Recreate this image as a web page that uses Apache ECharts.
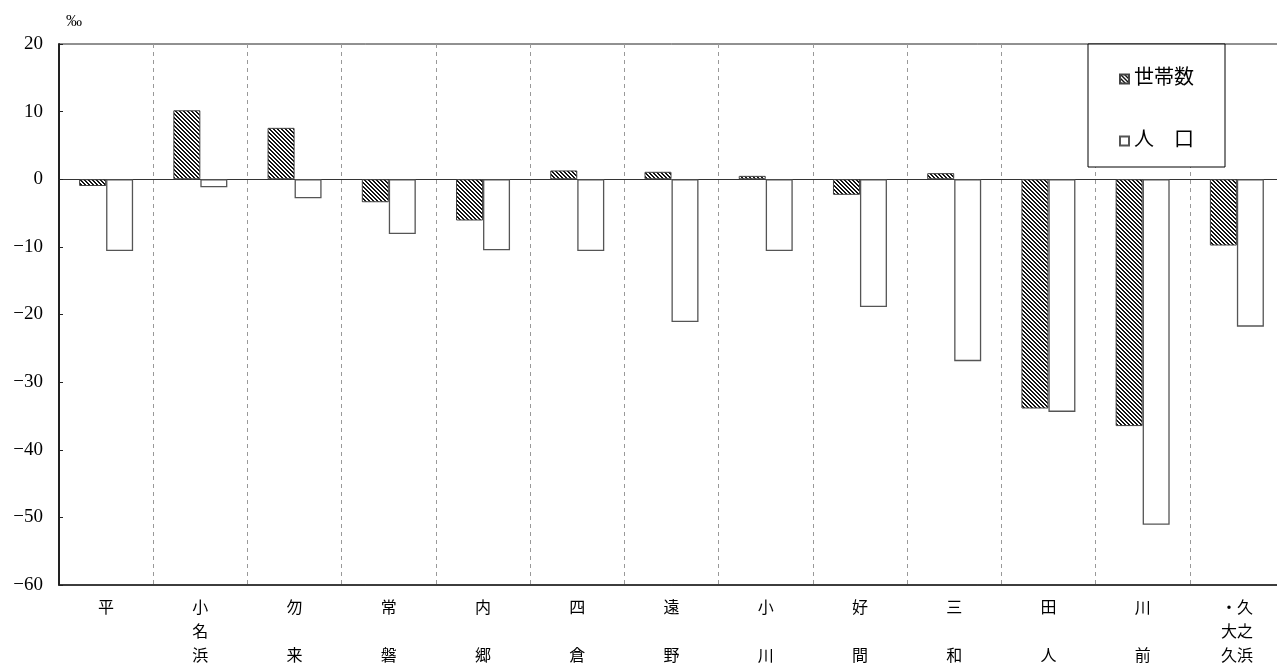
<!DOCTYPE html>
<html>
<head>
<meta charset="utf-8">
<script src="https://cdn.jsdelivr.net/npm/echarts@6/dist/echarts.min.js"></script>
<style>html,body{margin:0;padding:0;background:#fff;overflow:hidden;}#c{width:1290px;height:670px;}</style>
</head>
<body>
<div id="c"></div>
<script>
const categories = ['平','小名浜','勿来','常磐','内郷','四倉','遠野','小川','好間','三和','田人','川前','久之浜・大久'];
const households = [-1.0, 10.2, 7.6, -3.4, -6.1, 1.3, 1.1, 0.5, -2.3, 0.9, -33.9, -36.5, -9.8];
const population = [-10.6, -1.2, -2.8, -8.1, -10.5, -10.6, -21.1, -10.6, -18.9, -26.9, -34.4, -51.1, -21.8];
const seriesNames = ['世帯数', '人　口'];
const yTicks = {min: -60, max: 20, interval: 10};

const FONT = "'Liberation Serif', 'Noto Sans CJK JP', serif";

// hatch pattern
const tile = document.createElement('canvas');
tile.width = 4; tile.height = 4;
const tctx = tile.getContext('2d');
const img = tctx.createImageData(4, 4);
for (let y = 0; y < 4; y++) for (let x = 0; x < 4; x++) {
  const k = (y * 4 + x) * 4;
  const dark = (((x - y) % 4) + 4) % 4 < 2;
  const v = dark ? 20 : 255;
  img.data[k] = v; img.data[k+1] = v; img.data[k+2] = v; img.data[k+3] = 255;
}
tctx.putImageData(img, 0, 0);

function fmtLabel(name) {
  if (name.length === 1) return name;
  if (name.length === 2) return name[0] + '\n\n' + name[1];
  if (name.length === 3) return name.split('').join('\n');
  // two vertical columns, right-to-left
  const parts = name.split('・');
  const right = parts[0];
  const left = '・' + parts[1];
  const lines = [];
  for (let i = 0; i < 3; i++) lines.push((left[i] || '　') + (right[i] || '　'));
  return lines.join('\n');
}

const chart = echarts.init(document.getElementById('c'));
chart.setOption({
  animation: false,
  textStyle: {fontFamily: FONT, color: '#000'},
  grid: {left: 59, top: 44, width: 1225, bottom: 85, show: true, borderColor: '#222', borderWidth: 1, containLabel: false},
  legend: {
    orient: 'vertical', left: 1088, top: 44,
    data: seriesNames,
    icon: 'rect', itemWidth: 9, itemHeight: 9, itemGap: 42, itemTextGap: 7,
    padding: [25, 31, 16, 31],
    borderColor: '#000', borderWidth: 1, backgroundColor: '#fff',
    textStyle: {fontFamily: FONT, fontSize: 20, lineHeight: 20, color: '#000'},
    selectedMode: false
  },
  xAxis: [
    {
      type: 'category', data: categories, position: 'bottom',
      axisLine: {onZero: false, lineStyle: {color: '#222', width: 1.5}},
      axisTick: {inside: true, length: 5, lineStyle: {color: '#222'}},
      axisLabel: {formatter: fmtLabel, fontSize: 16, lineHeight: 24, margin: 12, color: '#000', fontFamily: FONT, interval: 0},
      splitLine: {show: true, lineStyle: {color: '#999', type: [4, 4], width: 1}}
    },
    {
      type: 'category', data: categories, position: 'bottom',
      axisLine: {onZero: true, lineStyle: {color: '#333', width: 1}},
      axisTick: {inside: true, length: 4, lineStyle: {color: '#333'}},
      axisLabel: {show: false},
      splitLine: {show: false}
    }
  ],
  yAxis: {
    type: 'value', min: yTicks.min, max: yTicks.max, interval: yTicks.interval,
    name: '‰', nameLocation: 'end', nameGap: 14,
    nameTextStyle: {fontSize: 16, fontFamily: FONT, color: '#000', align: 'left', padding: [0, 0, 0, 7]},
    axisLine: {show: true, onZero: false, lineStyle: {color: '#222', width: 2}},
    axisTick: {show: true, inside: true, length: 4, lineStyle: {color: '#222'}},
    axisLabel: {fontSize: 19, color: '#000', fontFamily: FONT, margin: 16,
      formatter: v => (v < 0 ? '\u2212' + Math.abs(v) : String(v))},
    splitLine: {show: false}
  },
  series: [
    {
      name: seriesNames[0], type: 'bar', data: households, xAxisIndex: 0,
      barWidth: 27, barGap: '0%',
      itemStyle: {color: {image: tile, repeat: 'repeat'}, borderColor: '#444', borderWidth: 1}
    },
    {
      name: seriesNames[1], type: 'bar', data: population, xAxisIndex: 0,
      barWidth: 27, barGap: '0%',
      itemStyle: {color: '#fff', borderColor: '#555', borderWidth: 1.3}
    }
  ]
});
</script>
</body>
</html>
